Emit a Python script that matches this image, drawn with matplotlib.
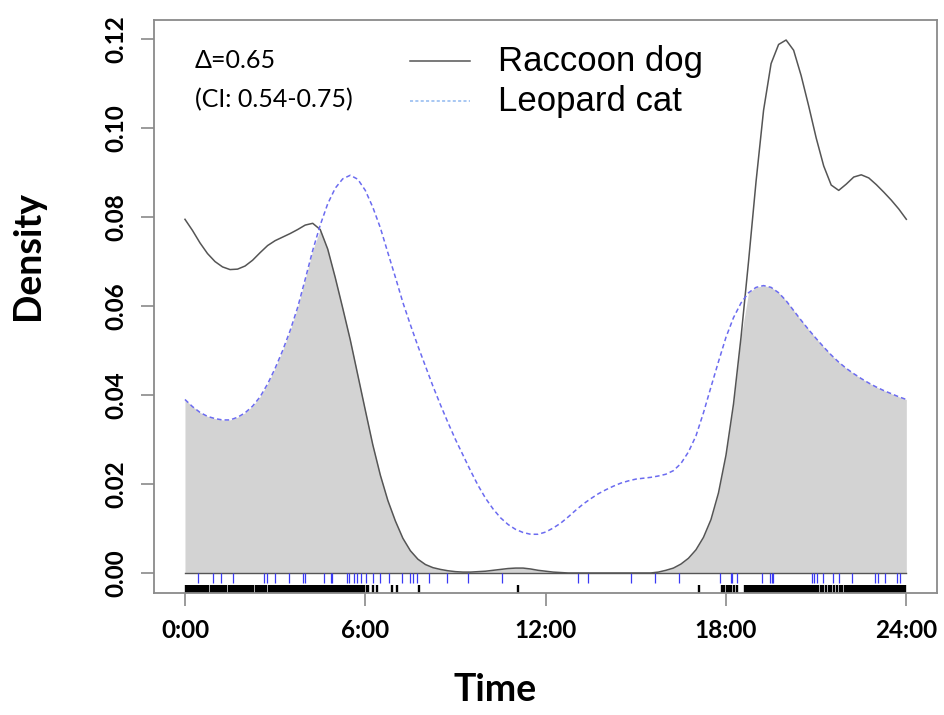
import matplotlib
matplotlib.use("Agg")
import matplotlib.pyplot as plt
from matplotlib.lines import Line2D
import numpy as np

# Kernel density curves of daily activity, read on a quarter-hour grid
hours = [
    0.00, 0.25, 0.50, 0.75, 1.00, 1.25, 1.50, 1.75, 2.00, 2.25, 2.50, 2.75,
    3.00, 3.25, 3.50, 3.75, 4.00, 4.25, 4.50, 4.75, 5.00, 5.25, 5.50, 5.75,
    6.00, 6.25, 6.50, 6.75, 7.00, 7.25, 7.50, 7.75, 8.00, 8.25, 8.50, 8.75,
    9.00, 9.25, 9.50, 9.75, 10.00, 10.25, 10.50, 10.75, 11.00, 11.25, 11.50, 11.75,
    12.00, 12.25, 12.50, 12.75, 13.00, 13.25, 13.50, 13.75, 14.00, 14.25, 14.50, 14.75,
    15.00, 15.25, 15.50, 15.75, 16.00, 16.25, 16.50, 16.75, 17.00, 17.25, 17.50, 17.75,
    18.00, 18.25, 18.50, 18.75, 19.00, 19.25, 19.50, 19.75, 20.00, 20.25, 20.50, 20.75,
    21.00, 21.25, 21.50, 21.75, 22.00, 22.25, 22.50, 22.75, 23.00, 23.25, 23.50, 23.75,
    24.00,
]

raccoon_dog = [
    0.0795, 0.0770, 0.0742, 0.0718, 0.0700, 0.0688, 0.0682, 0.0683, 0.0690, 0.0703, 0.0720, 0.0736,
    0.0747, 0.0755, 0.0763, 0.0772, 0.0782, 0.0786, 0.0772, 0.0728, 0.0664, 0.0595, 0.0524, 0.0445,
    0.0366, 0.0288, 0.0220, 0.0163, 0.0117, 0.0078, 0.0050, 0.0031, 0.0019, 0.0012, 0.0008, 0.0005,
    0.0003, 0.0002, 0.0002, 0.0003, 0.0004, 0.0006, 0.0008, 0.0010, 0.0011, 0.0011, 0.0009, 0.0006,
    0.0004, 0.0002, 0.0001, 0.0000, 0.0000, 0.0000, 0.0000, 0.0000, 0.0000, 0.0000, 0.0000, 0.0000,
    0.0000, 0.0000, 0.0000, 0.0002, 0.0006, 0.0011, 0.0020, 0.0033, 0.0052, 0.0080, 0.0120, 0.0180,
    0.0265, 0.0380, 0.0530, 0.0700, 0.0880, 0.1040, 0.1145, 0.1188, 0.1198, 0.1175, 0.1118, 0.1050,
    0.0978, 0.0915, 0.0872, 0.0860, 0.0874, 0.0890, 0.0895, 0.0888, 0.0873, 0.0856, 0.0838, 0.0818,
    0.0795,
]

leopard_cat = [
    0.0390, 0.0374, 0.0361, 0.0352, 0.0347, 0.0344, 0.0344, 0.0350, 0.0360, 0.0375, 0.0396, 0.0425,
    0.0460, 0.0500, 0.0545, 0.0597, 0.0660, 0.0725, 0.0782, 0.0830, 0.0865, 0.0886, 0.0894, 0.0885,
    0.0860, 0.0822, 0.0776, 0.0720, 0.0665, 0.0608, 0.0558, 0.0510, 0.0465, 0.0420, 0.0378, 0.0338,
    0.0300, 0.0265, 0.0230, 0.0197, 0.0168, 0.0144, 0.0124, 0.0109, 0.0098, 0.0091, 0.0087, 0.0087,
    0.0092, 0.0101, 0.0112, 0.0126, 0.0141, 0.0155, 0.0167, 0.0178, 0.0187, 0.0195, 0.0202, 0.0207,
    0.0211, 0.0213, 0.0215, 0.0218, 0.0222, 0.0230, 0.0246, 0.0272, 0.0308, 0.0360, 0.0418, 0.0475,
    0.0530, 0.0574, 0.0607, 0.0630, 0.0642, 0.0646, 0.0642, 0.0630, 0.0612, 0.0590, 0.0568, 0.0547,
    0.0527, 0.0508, 0.0490, 0.0474, 0.0460, 0.0448, 0.0437, 0.0427, 0.0418, 0.0410, 0.0403, 0.0396,
    0.0390,
]

# Detection times (hours) shown as rugs under the curves
raccoon_times = [
    0.02, 0.08, 0.13, 0.20, 0.24, 0.31, 0.36, 0.42, 0.47, 0.55, 0.60, 0.66, 0.71, 0.77,
    0.85, 0.90, 0.96, 1.01, 1.08, 1.13, 1.20, 1.26, 1.31, 1.37, 1.45, 1.50, 1.55, 1.62,
    1.68, 1.74, 1.80, 1.86, 1.93, 1.98, 2.04, 2.10, 2.17, 2.22, 2.28, 2.35, 2.40, 2.47,
    2.53, 2.58, 2.64, 2.70, 2.78, 2.83, 2.88, 2.95, 3.00, 3.06, 3.12, 3.19, 3.24, 3.30,
    3.36, 3.42, 3.49, 3.54, 3.60, 3.66, 3.72, 3.79, 3.84, 3.90, 3.96, 4.03, 4.08, 4.14,
    4.20, 4.27, 4.32, 4.38, 4.45, 4.50, 4.56, 4.62, 4.68, 4.75, 4.80, 4.86, 4.92, 4.98,
    5.05, 5.10, 5.16, 5.22, 5.28, 5.35, 5.40, 5.46, 5.52, 5.58, 5.65, 5.70, 5.76, 5.83,
    5.90, 5.96, 6.05, 6.10, 6.27, 6.38, 6.90, 7.04, 7.79, 11.07, 17.11,
    17.86, 17.92, 18.02, 18.09, 18.18, 18.28, 18.36, 18.62, 18.68, 18.74, 18.80, 18.85,
    18.91, 18.97, 19.03, 19.08, 19.14, 19.20, 19.26, 19.31, 19.37, 19.43, 19.49, 19.54,
    19.60, 19.66, 19.72, 19.77, 19.83, 19.89, 19.95, 20.00, 20.06, 20.12, 20.18, 20.23,
    20.29, 20.35, 20.41, 20.46, 20.52, 20.58, 20.64, 20.69, 20.75, 20.81, 20.87, 20.92,
    20.98, 21.06, 21.15, 21.24, 21.33, 21.42, 21.51, 21.60, 21.69, 21.78, 21.87, 21.95,
    22.01, 22.07, 22.13, 22.18, 22.24, 22.30, 22.36, 22.41, 22.47, 22.53, 22.59, 22.64,
    22.70, 22.76, 22.82, 22.87, 22.93, 22.99, 23.05, 23.10, 23.16, 23.22, 23.28, 23.33,
    23.39, 23.45, 23.51, 23.56, 23.62, 23.68, 23.74, 23.79, 23.85, 23.91, 23.97,
]

leopard_times = [
    0.44, 0.94, 1.20, 1.59, 2.64, 2.74, 2.99, 3.47, 3.92, 4.00, 4.64, 4.86, 4.90, 5.40,
    5.47, 5.62, 5.71, 5.85, 6.01, 6.25, 6.49, 6.79, 7.23, 7.49, 7.58, 7.71, 8.13, 8.73,
    9.41, 10.56, 13.07, 13.42, 14.84, 15.64, 16.42, 17.80, 18.16, 18.21, 18.36, 19.19,
    19.47, 19.52, 19.58, 20.85, 20.93, 21.04, 21.24, 21.57, 21.76, 22.18, 22.96, 23.07,
    23.29, 23.68, 23.79,
]

tick_hours = [0, 6, 12, 18, 24]
tick_names = ["0:00", "6:00", "12:00", "18:00", "24:00"]
density_ticks = [0.00, 0.02, 0.04, 0.06, 0.08, 0.10, 0.12]

W, H = 945, 715
fig = plt.figure(figsize=(W / 100, H / 100), dpi=100)
ax = fig.add_axes([154 / W, 1 - 593 / H, (937 - 154) / W, (593 - 20) / H])

x = np.array(hours)
rd = np.array(raccoon_dog)
lc = np.array(leopard_cat)

# shaded overlap area
ax.fill_between(x, 0, np.minimum(rd, lc), color="#d3d3d3", lw=0, zorder=1)
ax.plot(x, rd, color="#555555", lw=1.1, zorder=3)
ax.plot(x, lc, color="#6b6bf0", lw=1.1, ls=(0, (3, 2)), zorder=3)
ax.plot([0, 24], [0, 0], color="#555555", lw=1.0, zorder=2)

# rugs
ax.vlines(leopard_times, -0.00225, 0.0, color="#3a3af5", lw=0.9, zorder=2)
ax.vlines(raccoon_times, -0.0046, -0.0027, color="black", lw=1.7, zorder=2)

ax.set_xlim(-1.03, 25.02)
ax.set_ylim(-0.0045, 0.1243)
ax.set_xticks(tick_hours)
ax.set_xticklabels(tick_names)
ax.set_yticks(density_ticks)
ax.set_yticklabels([f"{v:.2f}" for v in density_ticks], rotation=90, va="center")

for s in ax.spines.values():
    s.set_color("#8a8a8a")
    s.set_linewidth(1.3)
ax.tick_params(axis="both", colors="#8a8a8a", length=9.5, width=1.2, labelcolor="black")
ax.tick_params(axis="x", pad=9)
ax.tick_params(axis="y", pad=10)
for lab in ax.get_xticklabels() + ax.get_yticklabels():
    lab.set_fontfamily("Lato")
    lab.set_fontweight("bold")
    lab.set_fontsize(17.5)

fig.text(28 / W, 1 - 255 / H, "Density", rotation=90, ha="center", va="center",
         family="Lato", weight="bold", fontsize=27)
fig.text(495 / W, 1 - 690 / H, "Time", ha="center", va="center",
         family="Lato", weight="bold", fontsize=27)

# overlap coefficient annotation
fig.text(195 / W, 1 - 60 / H, "\u0394=0.65", ha="left", va="center", family="Lato", fontsize=18)
fig.text(195 / W, 1 - 100 / H, "(CI: 0.54-0.75)", ha="left", va="center", family="Lato", fontsize=18)

# hand-placed legend
fig.add_artist(Line2D([410 / W, 470 / W], [1 - 61 / H, 1 - 61 / H], color="#555555", lw=1.1))
fig.add_artist(Line2D([410 / W, 470 / W], [1 - 101 / H, 1 - 101 / H], color="#8fb8f0",
                      lw=1.1, ls=(0, (2, 1.5))))
fig.text(498 / W, 1 - 62 / H, "Raccoon dog", ha="left", va="center",
         family="Liberation Sans", fontsize=25)
fig.text(498 / W, 1 - 102 / H, "Leopard cat", ha="left", va="center",
         family="Liberation Sans", fontsize=25)

fig.savefig("out.png", dpi=100)
